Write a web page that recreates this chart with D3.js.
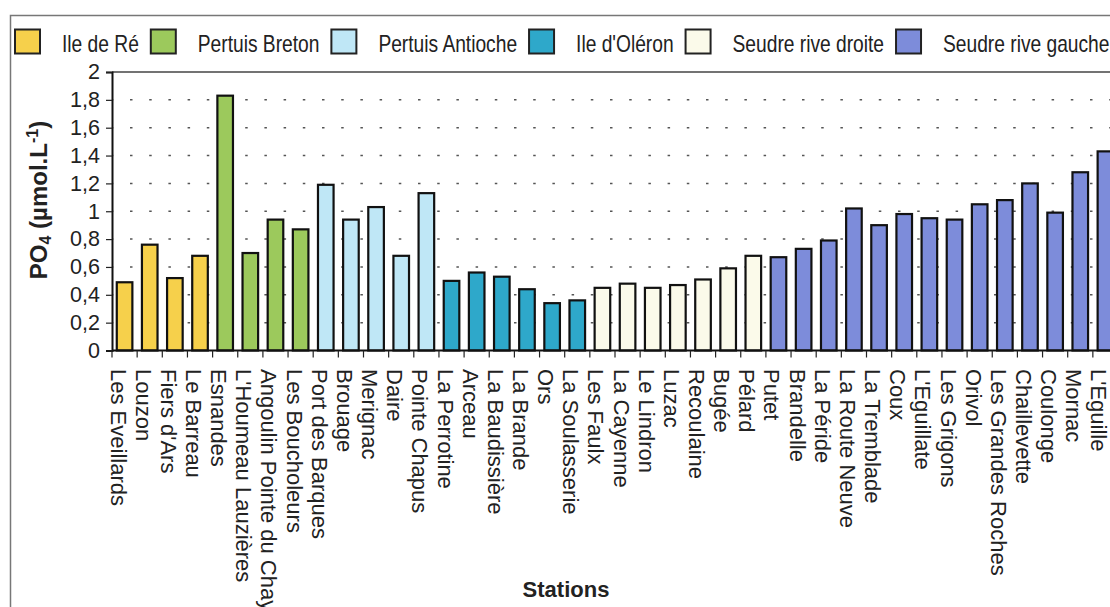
<!DOCTYPE html>
<html>
<head>
<meta charset="utf-8">
<script src="https://cdn.jsdelivr.net/npm/d3@7/dist/d3.min.js"></script>
<style>
    html, body { margin: 0; padding: 0; background: #fff; }
    svg { display: block; font-family: "Liberation Sans", Arial, sans-serif; }
</style>
</head>
<body>
<div id="chart"></div>
<script>
// Stations, in the order they appear along the x axis
const stations = [
    "Les Eveillards", "Louzon", "Fiers d'Ars", "Le Barreau",
    "Esnandes", "L'Houmeau Lauzières", "Angoulin Pointe du Chay", "Les Boucholeurs",
    "Port des Barques", "Brouage", "Merignac", "Daire", "Pointe Chapus",
    "La Perrotine", "Arceau", "La Baudissière", "La Brande", "Ors", "La Soulasserie",
    "Les Faulx", "La Cayenne", "Le Lindron", "Luzac", "Recoulaine", "Bugée", "Pélard",
    "Putet", "Brandelle", "La Péride", "La Route Neuve", "La Tremblade", "Coux",
    "L'Eguillate", "Les Grigons", "Orivol", "Les Grandes Roches", "Chaillevette",
    "Coulonge", "Mornac", "L'Eguille"
];

// PO4 (µmol.L-1)
const po4 = [
    0.49, 0.76, 0.52, 0.68,
    1.83, 0.70, 0.94, 0.87,
    1.19, 0.94, 1.03, 0.68, 1.13,
    0.50, 0.56, 0.53, 0.44, 0.34, 0.36,
    0.45, 0.48, 0.45, 0.47, 0.51, 0.59, 0.68,
    0.67, 0.73, 0.79, 1.02, 0.90, 0.98, 0.95, 0.94, 1.05, 1.08, 1.20, 0.99, 1.28, 1.43
];

const regions = ["Ile de Ré", "Pertuis Breton", "Pertuis Antioche", "Ile d'Oléron", "Seudre rive droite", "Seudre rive gauche"];
const regionCounts = [4, 4, 5, 6, 7, 14];
const yTicks = [0, 0.2, 0.4, 0.6, 0.8, 1, 1.2, 1.4, 1.6, 1.8, 2];

const regionColors = ["#f6d04b", "#9cc95c", "#bfe7f6", "#2ea8ca", "#fbfaea", "#7d8cda"];

// region index for each station
const stationRegion = [];
regionCounts.forEach((n, r) => { for (let i = 0; i < n; i++) stationRegion.push(r); });

const data = stations.map((name, i) => ({name: name, value: po4[i], region: stationRegion[i]}));

const width = 1110, height = 607;
const plot = {left: 112, top: 72, bottom: 350.5, step: 25.15};

const svg = d3.select("#chart").append("svg")
    .attr("width", width)
    .attr("height", height);

// outer frame (only top and left edges are inside the picture)
svg.append("path")
    .attr("d", "M 10.5," + height + " V 15.5 H " + width)
    .attr("fill", "none")
    .attr("stroke", "#777")
    .attr("stroke-width", 1.5);

const x = d3.scaleBand()
    .domain(stations)
    .range([plot.left, plot.left + plot.step * stations.length])
    .paddingInner(0.38)
    .paddingOuter(0.19);

const y = d3.scaleLinear()
    .domain([0, 2])
    .range([plot.bottom, plot.top]);

const xRight = plot.left + plot.step * stations.length;

// dotted gridlines
svg.append("g")
    .selectAll("line")
    .data(yTicks.filter(t => t > 0 && t < 2))
    .join("line")
    .attr("x1", plot.left)
    .attr("x2", xRight)
    .attr("y1", d => y(d))
    .attr("y2", d => y(d))
    .attr("stroke", "#555")
    .attr("stroke-width", 1.5)
    .attr("stroke-dasharray", "2.5 16.7")
    .attr("stroke-dashoffset", -18);

// plot area top border
svg.append("line")
    .attr("x1", plot.left)
    .attr("x2", xRight)
    .attr("y1", y(2))
    .attr("y2", y(2))
    .attr("stroke", "#444")
    .attr("stroke-width", 1.5);

// bars
svg.append("g")
    .selectAll("rect")
    .data(data)
    .join("rect")
    .attr("x", d => x(d.name))
    .attr("width", x.bandwidth())
    .attr("y", d => y(d.value))
    .attr("height", d => y(0) - y(d.value))
    .attr("fill", d => regionColors[d.region])
    .attr("stroke", "#111")
    .attr("stroke-width", 2.2);

// y axis
const yAxis = d3.axisLeft(y)
    .tickValues(yTicks)
    .tickSize(6)
    .tickPadding(6)
    .tickFormat(d => String(+d.toFixed(1)).replace(".", ","));

const yAxisSvg = svg.append("g")
    .attr("transform", "translate(" + plot.left + ",0)")
    .call(yAxis);

yAxisSvg.select(".domain").attr("stroke", "#111").attr("stroke-width", 2);
yAxisSvg.selectAll(".tick line").attr("stroke", "#222").attr("stroke-width", 1.2);
yAxisSvg.selectAll(".tick text")
    .attr("font-size", 21.5)
    .attr("font-family", "Liberation Sans, Arial, sans-serif")
    .attr("fill", "#222");

// x axis line and ticks between categories
svg.append("line")
    .attr("x1", plot.left)
    .attr("x2", xRight)
    .attr("y1", plot.bottom)
    .attr("y2", plot.bottom)
    .attr("stroke", "#111")
    .attr("stroke-width", 2);

svg.append("g")
    .selectAll("line")
    .data(stations)
    .join("line")
    .attr("x1", d => x(d) - x.step() * 0.19)
    .attr("x2", d => x(d) - x.step() * 0.19)
    .attr("y1", plot.bottom)
    .attr("y2", plot.bottom + 7)
    .attr("stroke", "#222")
    .attr("stroke-width", 1.2);

// station labels, rotated to read downwards
svg.append("g")
    .selectAll("text")
    .data(stations)
    .join("text")
    .attr("transform", d => "translate(" + (x(d) + x.bandwidth() / 2 - 14) + "," + 369 + ") rotate(90)")
    .attr("font-size", 22)
    .attr("fill", "#222")
    .text(d => d);

// axis titles
svg.append("text")
    .attr("x", 566)
    .attr("y", 597)
    .attr("text-anchor", "middle")
    .attr("font-size", 22)
    .attr("font-weight", "bold")
    .attr("fill", "#222")
    .text("Stations");

const yTitle = svg.append("text")
    .attr("transform", "translate(47,200) rotate(-90)")
    .attr("text-anchor", "middle")
    .attr("font-size", 24)
    .attr("font-weight", "bold")
    .attr("fill", "#222");
yTitle.append("tspan").text("PO");
yTitle.append("tspan").attr("font-size", 16).attr("dy", 4).text("4");
yTitle.append("tspan").attr("dy", -4).text(" (µmol.L");
yTitle.append("tspan").attr("font-size", 16).attr("dy", -9).text("-1");
yTitle.append("tspan").attr("dy", 9).text(")");

// legend: square then label, laid out left to right
const legend = svg.append("g");
let lx = 15;
regions.forEach((name, i) => {
    legend.append("rect")
        .attr("x", lx)
        .attr("y", 29.5)
        .attr("width", 25)
        .attr("height", 24)
        .attr("fill", regionColors[i])
        .attr("stroke", "#222")
        .attr("stroke-width", 2);
    lx += 25 + 22;
    const t = legend.append("text")
        .attr("transform", "translate(" + lx + ",51.5) scale(1,1.25)")
        .attr("font-size", 19.2)
        .attr("fill", "#222")
        .text(name);
    lx += t.node().getComputedTextLength() + 12;
});
</script>
</body>
</html>
